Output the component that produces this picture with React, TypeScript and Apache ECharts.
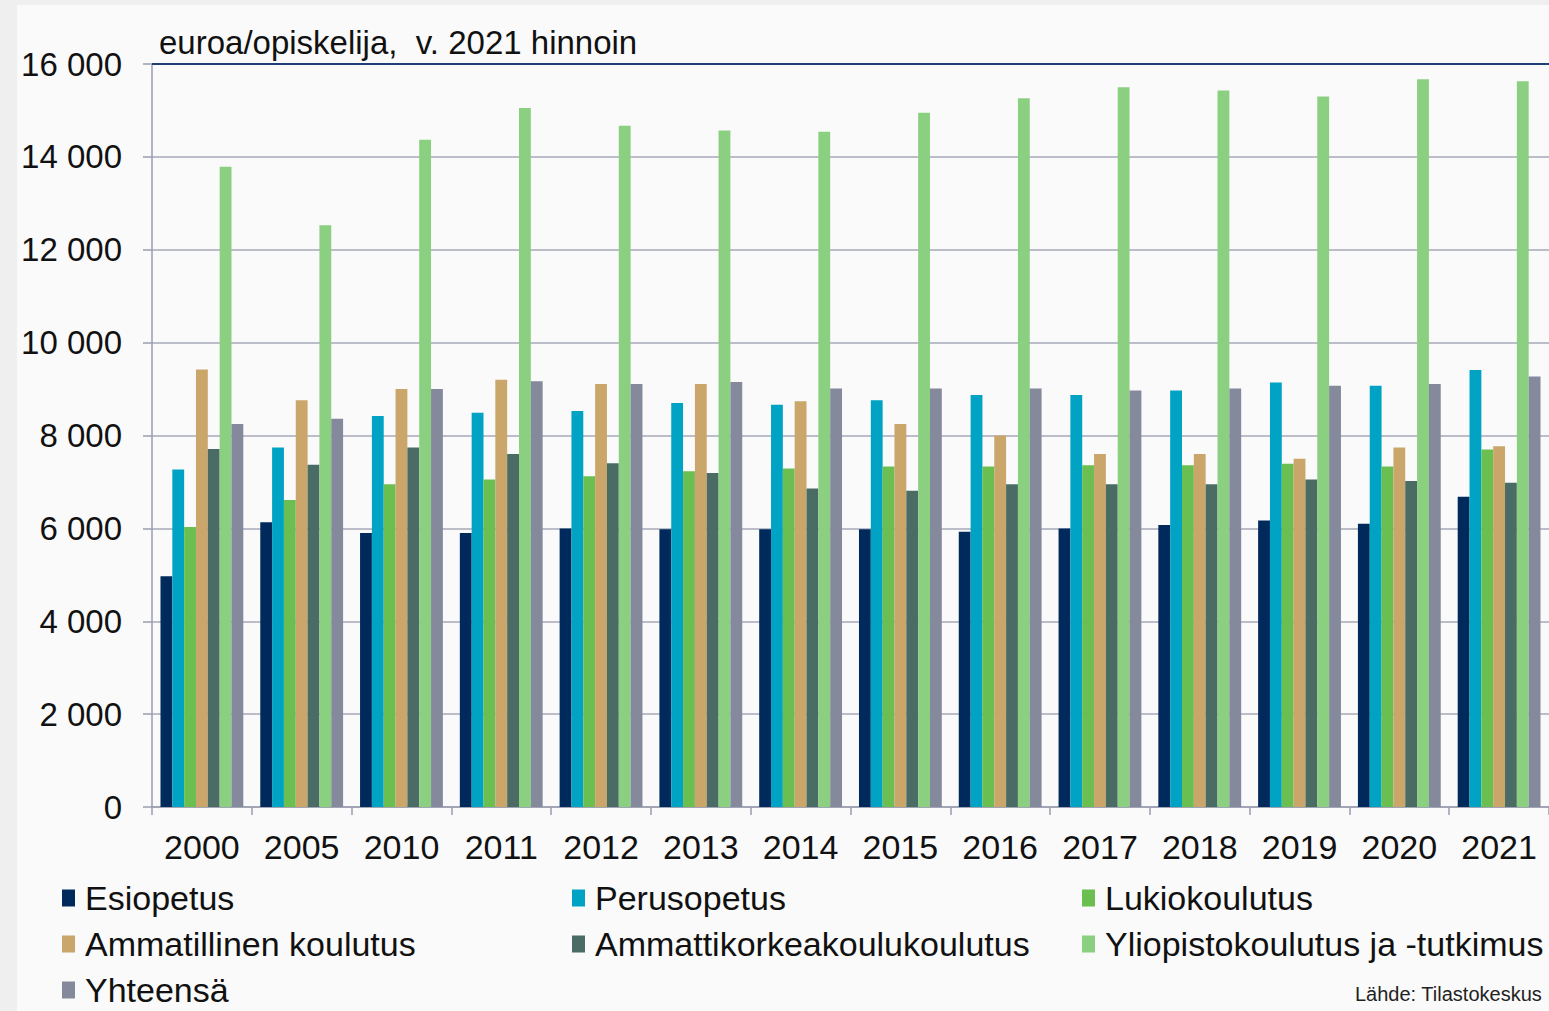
import React, { useEffect, useRef } from "react";
import * as echarts from "echarts";

const years = ["2000", "2005", "2010", "2011", "2012", "2013", "2014", "2015", "2016", "2017", "2018", "2019", "2020", "2021"];
const esiopetus = [4970, 6130, 5900, 5900, 6000, 5980, 5980, 5980, 5930, 6000, 6070, 6170, 6100, 6680];
const perusopetus = [7270, 7740, 8420, 8490, 8530, 8700, 8660, 8760, 8870, 8870, 8970, 9140, 9070, 9410];
const lukiokoulutus = [6030, 6610, 6950, 7050, 7120, 7230, 7290, 7330, 7330, 7360, 7360, 7390, 7330, 7700];
const ammatillinen = [9420, 8760, 9000, 9200, 9110, 9110, 8740, 8250, 8000, 7600, 7600, 7500, 7740, 7770];
const amk = [7710, 7370, 7740, 7600, 7400, 7190, 6860, 6810, 6950, 6950, 6950, 7050, 7020, 6980];
const yliopisto = [13790, 12530, 14370, 15050, 14670, 14570, 14540, 14950, 15260, 15500, 15430, 15300, 15670, 15630];
const yhteensa = [8250, 8360, 9000, 9170, 9110, 9150, 9010, 9010, 9010, 8970, 9010, 9070, 9110, 9270];

const seriesNames = [
  "Esiopetus",
  "Perusopetus",
  "Lukiokoulutus",
  "Ammatillinen koulutus",
  "Ammattikorkeakoulukoulutus",
  "Yliopistokoulutus ja -tutkimus",
  "Yhteensä",
];
const seriesData = [esiopetus, perusopetus, lukiokoulutus, ammatillinen, amk, yliopisto, yhteensa];
const colors = ["#002a5c", "#00a3c4", "#6abf50", "#caa66b", "#4a6c64", "#8bcf80", "#848a9c"];

const FONT = "'Liberation Sans', Arial, sans-serif";

export default function App() {
  const ref = useRef<HTMLDivElement>(null);
  useEffect(() => {
    if (!ref.current) return;
    const chart = echarts.init(ref.current, undefined, { renderer: "svg" });
    const legendBase = {
      orient: "vertical" as const,
      top: 876,
      padding: 0,
      icon: "rect",
      itemWidth: 13,
      itemHeight: 17,
      itemGap: 12,
      textStyle: { fontFamily: FONT, fontSize: 34, color: "#111", lineHeight: 34, padding: [0, 0, 0, 5] },
      selectedMode: false,
    };
    chart.setOption({
      animation: false,
      backgroundColor: "#fafafa",
      color: colors,
      textStyle: { fontFamily: FONT },
      title: {
        text: "euroa/opiskelija,  v. 2021 hinnoin",
        left: 142,
        top: 21,
        padding: 0,
        textStyle: { fontFamily: FONT, fontSize: 33, fontWeight: "normal", color: "#111" },
      },
      legend: [
        { ...legendBase, left: 45, data: [seriesNames[0], seriesNames[3], seriesNames[6]] },
        { ...legendBase, left: 555, data: [seriesNames[1], seriesNames[4]] },
        { ...legendBase, left: 1065, data: [seriesNames[2], seriesNames[5]] },
      ],
      grid: { left: 135, top: 59, width: 1404, height: 743, containLabel: false },
      xAxis: {
        type: "category",
        data: years,
        axisLine: { lineStyle: { color: "#9a9eae", width: 1.5 } },
        axisTick: { show: true, length: 8, lineStyle: { color: "#9a9eae", width: 1.5 } },
        axisLabel: { fontFamily: FONT, fontSize: 34, color: "#111", margin: 23 },
      },
      yAxis: {
        type: "value",
        min: 0,
        max: 16000,
        interval: 2000,
        axisLine: { show: true, lineStyle: { color: "#9a9eae", width: 1.5 } },
        axisTick: { show: true, length: 9, lineStyle: { color: "#9a9eae", width: 1.5 } },
        splitLine: { show: true, lineStyle: { color: "#a6a9b8", width: 1.5 } },
        axisLabel: {
          fontFamily: FONT,
          fontSize: 33,
          color: "#111",
          margin: 30,
          formatter: (v: number) => String(v).replace(/\B(?=(\d{3})+(?!\d))/g, " "),
        },
      },
      series: seriesNames.map((name, i) => ({
        name,
        type: "bar",
        data: seriesData[i],
        barGap: "0%",
        barCategoryGap: "17%",
        itemStyle: { color: colors[i] },
        ...(i === 6
          ? {
              markLine: {
                silent: true,
                symbol: "none",
                label: { show: false },
                lineStyle: { color: "#1f3f78", width: 2, type: "solid" },
                data: [{ yAxis: 16000 }],
              },
            }
          : {}),
      })),
      graphic: [
        {
          type: "text",
          left: 1338,
          top: 979,
          style: { text: "Lähde: Tilastokeskus", font: `20px ${FONT}`, fill: "#222" },
        },
      ],
    });
    return () => chart.dispose();
  }, []);
  return (
    <div style={{ position: "fixed", left: 0, top: 0, width: 1549, height: 1011, background: "#efefef", overflow: "hidden" }}>
      <div ref={ref} style={{ position: "absolute", left: 17, top: 5, width: 1532, height: 1006 }} />
    </div>
  );
}
